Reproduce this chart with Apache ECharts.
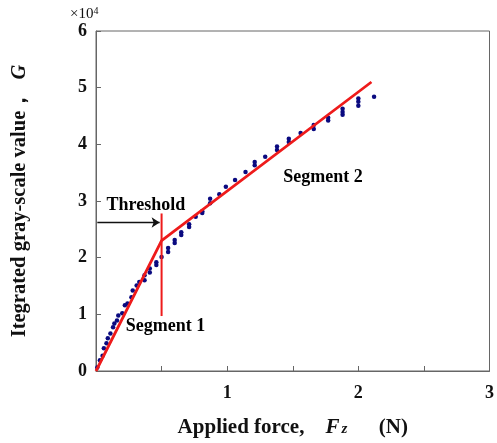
<!DOCTYPE html>
<html>
<head>
<meta charset="utf-8">
<script src="https://cdn.jsdelivr.net/npm/echarts@6/dist/echarts.min.js"></script>
<style>
  html, body { margin: 0; padding: 0; background: #fff; }
  #chart { width: 497px; height: 443px; }
</style>
</head>
<body>
<div id="chart"></div>
<script>
// Measured samples: applied force (N) and integrated gray-scale value (×10^4)
const forceN = [
  0.01, 0.03, 0.05, 0.06, 0.08, 0.09, 0.11, 0.13, 0.14, 0.16, 0.17, 0.20, 0.22, 0.24,
  0.27, 0.28, 0.31, 0.33, 0.37, 0.37, 0.41, 0.41, 0.46, 0.46, 0.50, 0.55, 0.55,
  0.60, 0.60, 0.65, 0.65, 0.71, 0.71, 0.76, 0.81, 0.81, 0.87, 0.87, 0.94, 0.99,
  1.06, 1.14, 1.21, 1.21, 1.29, 1.38, 1.38, 1.47, 1.47, 1.56, 1.66, 1.66,
  1.77, 1.77, 1.88, 1.88, 1.88, 2.00, 2.00, 2.00, 2.12
];
const grayValue = [
  0.06, 0.19, 0.27, 0.40, 0.49, 0.58, 0.66, 0.77, 0.84, 0.89, 0.98, 1.02, 1.16, 1.19,
  1.30, 1.42, 1.51, 1.57, 1.60, 1.69, 1.74, 1.81, 1.87, 1.92, 2.01, 2.10, 2.17,
  2.26, 2.31, 2.40, 2.45, 2.54, 2.59, 2.72, 2.79, 2.82, 2.96, 3.04, 3.12, 3.25,
  3.37, 3.51, 3.63, 3.69, 3.78, 3.90, 3.96, 4.04, 4.10, 4.20, 4.27, 4.34,
  4.42, 4.47, 4.52, 4.57, 4.63, 4.68, 4.75, 4.81, 4.84
];

// Two-segment linear fit: break point at the threshold force
const fitX = [0, 0.5, 2.1];
const fitY = [0, 2.3, 5.1];

// Threshold marker: vertical red line and black arrow
const thresholdX = 0.5;
const thresholdSpan = [0.97, 2.78];
const arrowY = 2.62;
const arrowFrom = 0.01;

// Annotation texts and their data positions
const noteText = ['Threshold', 'Segment 1', 'Segment 2'];
const noteX = [0.38, 0.53, 1.73];
const noteY = [2.93, 0.79, 3.42];

// Axis ticks
const xTicks = ['', '', '1', '', '2', '', '3'];
const yTicks = ['0', '1', '2', '3', '4', '5', '6'];

const serif = '"Liberation Serif", "Times New Roman", serif';

const chart = echarts.init(document.getElementById('chart'), null, { renderer: 'canvas' });

const points = forceN.map((x, i) => [x, grayValue[i]]);
const fitLine = fitX.map((x, i) => [x, fitY[i]]);
const notes = noteText.map((t, i) => ({ value: [noteX[i], noteY[i]], name: t }));

chart.setOption({
  animation: false,
  backgroundColor: '#fff',
  grid: {
    left: 96, right: 3, top: 31, bottom: 72,
    show: true, borderColor: '#666', borderWidth: 1, backgroundColor: 'transparent'
  },
  graphic: [{
    type: 'text', left: 70, top: 6,
    style: {
      text: '×10{s|4}',
      font: '15px ' + serif,
      fill: '#111',
      rich: { s: { fontSize: 10, verticalAlign: 'top', fontFamily: serif, padding: [0, 0, 7, 0] } }
    }
  }],
  xAxis: {
    type: 'value', min: 0, max: 3, interval: 0.5,
    axisLine: { lineStyle: { color: '#666', width: 1 } },
    axisTick: { inside: true, length: 5, lineStyle: { color: '#666' } },
    splitLine: { show: false },
    axisLabel: {
      margin: 13, color: '#111', fontFamily: serif, fontWeight: 'bold', fontSize: 18,
      formatter: (v) => xTicks[Math.round(v / 0.5)]
    },
    name: 'Applied force,    {i|F}{z|z}      (N)',
    nameLocation: 'middle', nameGap: 46,
    nameTextStyle: {
      fontFamily: serif, fontWeight: 'bold', fontSize: 21, color: '#111',
      rich: {
        i: { fontFamily: serif, fontWeight: 'bold', fontStyle: 'italic', fontSize: 21, color: '#111' },
        z: { fontFamily: serif, fontWeight: 'bold', fontStyle: 'italic', fontSize: 15, color: '#111', padding: [4, 0, 0, 2] }
      }
    }
  },
  yAxis: {
    type: 'value', min: 0, max: 6, interval: 1,
    axisLine: { show: true, lineStyle: { color: '#666', width: 1 } },
    axisTick: { show: true, inside: true, length: 5, lineStyle: { color: '#666' } },
    splitLine: { show: false },
    axisLabel: {
      margin: 9, color: '#111', fontFamily: serif, fontWeight: 'bold', fontSize: 18,
      formatter: (v) => yTicks[Math.round(v)]
    },
    name: 'Itegrated gray-scale value，  {g|G}',
    nameLocation: 'middle', nameRotate: 90, nameGap: 66,
    nameTextStyle: {
      fontFamily: serif, fontWeight: 'bold', fontSize: 20.5, color: '#111',
      rich: { g: { fontFamily: serif, fontWeight: 'bold', fontStyle: 'italic', fontSize: 20.5, color: '#111' } }
    }
  },
  series: [
    {
      name: 'measured', type: 'scatter', data: points,
      symbol: 'circle', symbolSize: 4.5,
      itemStyle: { color: '#0a0a80', opacity: 1 }, z: 3
    },
    {
      name: 'fit', type: 'line', data: fitLine,
      symbol: 'none', lineStyle: { color: '#ee1b1b', width: 2.8 }, z: 4
    },
    {
      name: 'threshold', type: 'line',
      data: [[thresholdX, thresholdSpan[0]], [thresholdX, thresholdSpan[1]]],
      symbol: 'none', lineStyle: { color: '#ee1b1b', width: 2 }, z: 4
    },
    {
      name: 'arrow', type: 'lines', coordinateSystem: 'cartesian2d',
      symbol: ['none', 'arrow'], symbolSize: 8,
      lineStyle: { color: '#111', width: 1.3, opacity: 1 },
      data: [{ coords: [[arrowFrom, arrowY], [thresholdX - 0.015, arrowY]] }], z: 5
    },
    {
      name: 'notes', type: 'scatter', data: notes, symbolSize: 0,
      itemStyle: { opacity: 1 },
      label: {
        show: true, position: 'inside', formatter: (p) => p.name,
        fontFamily: serif, fontWeight: 'bold', fontSize: 18, color: '#000'
      },
      z: 6
    }
  ]
});
</script>
</body>
</html>
